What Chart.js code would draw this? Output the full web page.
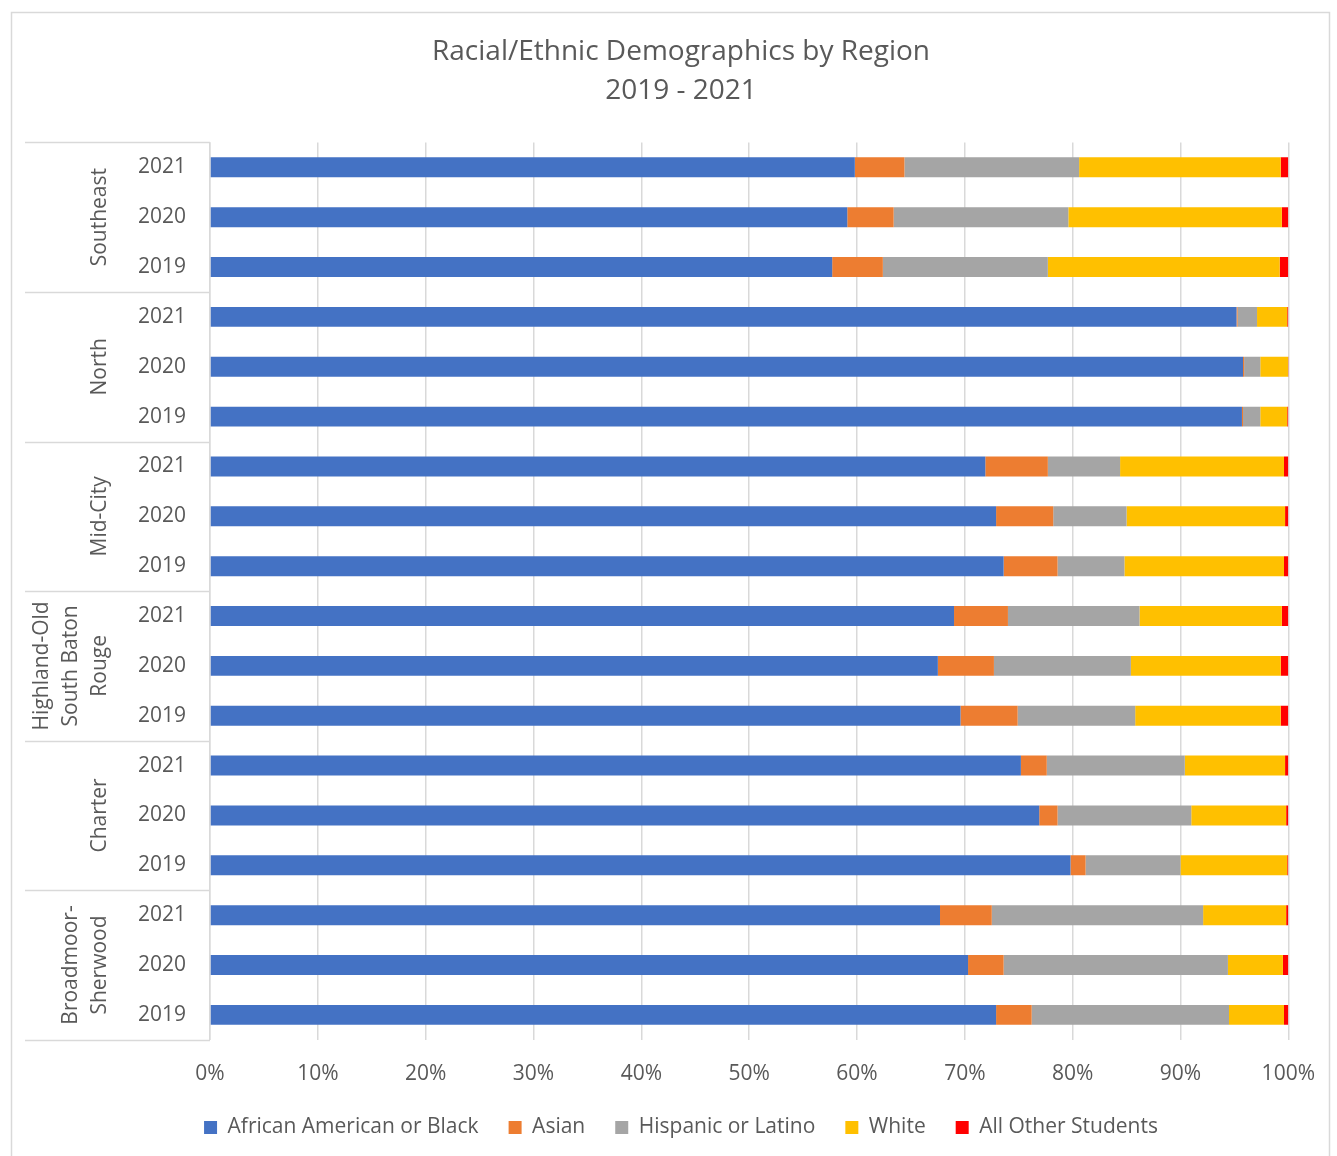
<!DOCTYPE html>
<html>
<head>
<meta charset="utf-8">
<script src="https://cdn.jsdelivr.net/npm/chart.js@4.4.1/dist/chart.umd.min.js"></script>
<style>
  html, body { margin: 0; padding: 0; background: #fff; }
  #wrap { width: 1337px; height: 1156px; }
</style>
</head>
<body>
<div id="wrap"><canvas id="demoChart"></canvas></div>
<script>
// regions top to bottom, each shown with three school years
var regions = [
    ['Southeast'],
    ['North'],
    ['Mid-City'],
    ['Highland-Old', 'South Baton', 'Rouge'],
    ['Charter'],
    ['Broadmoor-', 'Sherwood']
];
var years = ['2021', '2020', '2019'];

// percent of students, one value per region/year row
var black    = [59.8, 59.1, 57.7,  95.2, 95.8, 95.7,  71.9, 72.9, 73.6,  69.0, 67.5, 69.6,  75.2, 76.9, 79.8,  67.7, 70.3, 72.9];
var asian    = [ 4.6,  4.3,  4.7,   0.1,  0.1,  0.1,   5.8,  5.3,  5.0,   5.0,  5.2,  5.3,   2.4,  1.7,  1.4,   4.8,  3.3,  3.3];
var hispanic = [16.2, 16.2, 15.3,   1.8,  1.5,  1.6,   6.7,  6.8,  6.2,  12.2, 12.7, 10.9,  12.8, 12.4,  8.8,  19.6, 20.8, 18.3];
var white    = [18.7, 19.8, 21.5,   2.8,  2.6,  2.5,  15.2, 14.7, 14.8,  13.2, 13.9, 13.5,   9.3,  8.8,  9.9,   7.7,  5.1,  5.1];
var other    = [ 0.7,  0.6,  0.8,   0.1,  0.1,  0.1,   0.4,  0.3,  0.4,   0.6,  0.7,  0.7,   0.3,  0.2,  0.1,   0.2,  0.5,  0.4];

var xTicks = [0, 10, 20, 30, 40, 50, 60, 70, 80, 90, 100];

var labels = [];
regions.forEach(function () {
    years.forEach(function (y) { labels.push(y); });
});

var FONT = "'Open Sans', sans-serif";
var TEXT = '#595959';
Chart.defaults.font.family = FONT;
Chart.defaults.color = TEXT;

// white page, frame, region labels and separators on the category axis
var regionAxis = {
    id: 'regionAxis',
    beforeDraw: function (chart) {
        var ctx = chart.ctx;
        ctx.save();
        ctx.fillStyle = '#fff';
        ctx.fillRect(0, 0, chart.width, chart.height);
        ctx.strokeStyle = '#d9d9d9';
        ctx.lineWidth = 1.5;
        ctx.strokeRect(11.5, 12.5, 1318, 1160);
        ctx.restore();
    },
    afterDraw: function (chart) {
        var ctx = chart.ctx;
        var y = chart.scales.y;
        var step = y.getPixelForValue(1) - y.getPixelForValue(0);
        var left = 25, right = chart.chartArea.left;
        ctx.save();
        ctx.strokeStyle = '#d9d9d9';
        ctx.lineWidth = 1.5;
        regions.forEach(function (lines, g) {
            var top = y.getPixelForValue(g * 3) - step / 2;
            var bottom = y.getPixelForValue(g * 3 + 2) + step / 2;
            ctx.beginPath();
            ctx.moveTo(left, Math.round(top) + 0.5);
            ctx.lineTo(right, Math.round(top) + 0.5);
            if (g === regions.length - 1) {
                ctx.moveTo(left, Math.round(bottom) + 0.5);
                ctx.lineTo(right, Math.round(bottom) + 0.5);
            }
            ctx.stroke();

            // rotated region name, last line nearest the years
            ctx.save();
            ctx.translate(0, (top + bottom) / 2);
            ctx.rotate(-Math.PI / 2);
            ctx.fillStyle = TEXT;
            ctx.font = '21px ' + FONT;
            ctx.textAlign = 'center';
            ctx.textBaseline = 'middle';
            var n = lines.length;
            lines.forEach(function (t, i) {
                ctx.fillText(t, 0, 100 - (n - 1 - i) * 29);
            });
            ctx.restore();
        });
        ctx.restore();
    }
};

function series(label, data, color) {
    return {
        label: label,
        data: data,
        backgroundColor: color,
        borderWidth: 0,
        barPercentage: 0.4,
        categoryPercentage: 1.0
    };
}

new Chart('demoChart', {
    type: 'bar',
    data: {
        labels: labels,
        datasets: [
            series('African American or Black', black, '#4472C4'),
            series('Asian', asian, '#ED7D31'),
            series('Hispanic or Latino', hispanic, '#A5A5A5'),
            series('White', white, '#FFC000'),
            series('All Other Students', other, '#FF0000')
        ]
    },
    options: {
        indexAxis: 'y',
        responsive: true,
        maintainAspectRatio: false,
        animation: false,
        layout: {
            padding: { left: 68, right: 43, top: 0, bottom: 8 }
        },
        scales: {
            x: {
                stacked: true,
                min: 0,
                max: 100,
                afterBuildTicks: function (scale) {
                    scale.ticks = xTicks.map(function (v) { return { value: v }; });
                },
                afterFit: function (scale) { scale.height -= 22; },
                grid: {
                    color: '#d9d9d9',
                    lineWidth: 1.5,
                    drawTicks: false
                },
                border: { display: false },
                ticks: {
                    padding: 22,
                    font: { size: 21 },
                    color: TEXT,
                    callback: function (v) { return v + '%'; }
                }
            },
            y: {
                stacked: true,
                grid: { display: false, drawTicks: false },
                border: { display: true, color: '#d9d9d9', width: 1.5 },
                afterFit: function (scale) { scale.width = 142; },
                ticks: {
                    padding: 24,
                    font: { size: 21 },
                    color: TEXT
                }
            }
        },
        plugins: {
            title: {
                display: true,
                text: ['Racial/Ethnic Demographics by Region', '2019 - 2021'],
                font: { size: 28, weight: 'normal', lineHeight: 1.4 },
                color: TEXT,
                padding: { top: 32, bottom: 32 }
            },
            legend: {
                position: 'bottom',
                labels: {
                    boxWidth: 13,
                    boxHeight: 13,
                    padding: 30,
                    font: { size: 21 },
                    color: TEXT
                }
            },
            tooltip: { enabled: false }
        }
    },
    plugins: [regionAxis]
});
</script>
</body>
</html>
